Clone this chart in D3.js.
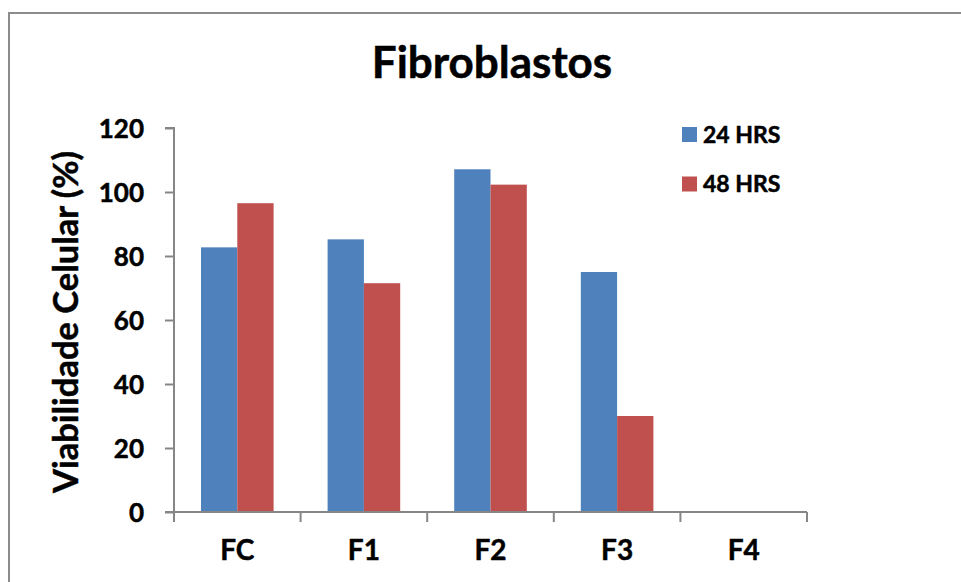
<!DOCTYPE html>
<html>
<head>
<meta charset="utf-8">
<script src="https://cdn.jsdelivr.net/npm/d3@7"></script>
<style>
  html, body { margin: 0; padding: 0; background: #fff; }
  svg { display: block; }
  text { font-family: "Lato", "Open Sans", sans-serif; font-weight: bold; fill: #000; stroke: #000; stroke-width: 0.5px; }
</style>
</head>
<body>
<svg id="chart" width="961" height="582"></svg>
<script>
const categories = ["FC", "F1", "F2", "F3", "F4"];
const seriesNames = ["24 HRS", "48 HRS"];
const values24 = [82.7, 85.2, 107.1, 75.0, 0.3];
const values48 = [96.5, 71.5, 102.3, 30.0, 0.0];
const yTicks = [0, 20, 40, 60, 80, 100, 120];
const colors = ["#4F81BD", "#C0504D"];
const titleText = "Fibroblastos";
const yLabelText = "Viabilidade Celular (%)";

(function () {
const svg = d3.select("#chart");
const plotLeft = 174, plotRight = 807, plotTop = 128, plotBottom = 512;

// outer border
svg.append("rect")
  .attr("x", 9).attr("y", 13).attr("width", 1000).attr("height", 600)
  .attr("fill", "none").attr("stroke", "#8c8c8c").attr("stroke-width", 2);

const x = d3.scaleBand().domain(categories).range([plotLeft, plotRight]).paddingInner(0).paddingOuter(0);
const x1 = d3.scaleBand().domain(seriesNames).range([27, x.bandwidth() - 27]).padding(0);
const y = d3.scaleLinear().domain([0, 120]).range([plotBottom, plotTop]);

const seriesData = [values24, values48];

// bars
seriesNames.forEach((s, si) => {
  svg.append("g").selectAll("rect")
    .data(categories.map((c, i) => ({c, v: seriesData[si][i]})))
    .join("rect")
    .attr("x", d => x(d.c) + x1(s))
    .attr("y", d => y(d.v))
    .attr("width", x1.bandwidth())
    .attr("height", d => y(0) - y(d.v))
    .attr("fill", colors[si]);
});

// y axis
const yAxis = d3.axisLeft(y).tickValues(yTicks).tickSize(9).tickPadding(20).tickFormat(d3.format("d"));
const gy = svg.append("g").attr("transform", `translate(${plotLeft},0)`).call(yAxis);
gy.select(".domain").attr("stroke", "#868686").attr("stroke-width", 2).attr("d", `M-9,${plotTop}H0V${plotBottom}H-9`);
gy.selectAll(".tick line").attr("stroke", "#868686").attr("stroke-width", 2);
gy.selectAll(".tick text").style("font-size", "26px").attr("dy", "0.36em").attr("x", -30);

// x axis
const xAxis = d3.axisBottom(x).tickSize(0).tickPadding(28);
const gx = svg.append("g").attr("transform", `translate(0,${plotBottom})`).call(xAxis);
gx.select(".domain").attr("stroke", "#868686").attr("stroke-width", 2).attr("d", `M${plotLeft},0H${plotRight}`);
gx.selectAll(".tick text").style("font-size", "28px");
// boundary tick marks
const bounds = categories.map(c => x(c)).concat([x.range()[1]]);
gx.selectAll(".bound").data(bounds).join("line")
  .attr("x1", d => d).attr("x2", d => d).attr("y1", 0).attr("y2", 10)
  .attr("stroke", "#868686").attr("stroke-width", 2);

// title
svg.append("text").attr("x", 492).attr("y", 78).attr("text-anchor", "middle")
  .style("font-size", "44px").text(titleText);

// y label
svg.append("text").attr("transform", `translate(78,322) rotate(-90)`)
  .attr("text-anchor", "middle").style("font-size", "34.5px").text(yLabelText);

// legend
const legend = svg.append("g");
seriesNames.forEach((s, i) => {
  const cy = 134.5 + i * 49.5;
  legend.append("rect").attr("x", 682).attr("y", cy - 7.5).attr("width", 15).attr("height", 15).attr("fill", colors[i]);
  legend.append("text").attr("x", 703).attr("y", cy).attr("dy", "0.36em").style("font-size", "23px").text(s);
});
})();
</script>
</body>
</html>
